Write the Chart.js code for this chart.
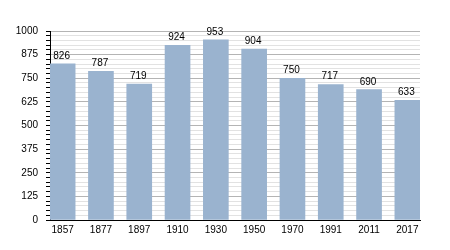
<!DOCTYPE html>
<html>
<head>
<meta charset="utf-8">
<script src="https://cdn.jsdelivr.net/npm/chart.js@4/dist/chart.umd.min.js"></script>
<style>
html,body{margin:0;padding:0;background:#fff;}
#wrap{width:450px;height:250px;}
</style>
</head>
<body>
<div id="wrap"><canvas id="c" width="450" height="250"></canvas></div>
<script>
const years = ['1857','1877','1897','1910','1930','1950','1970','1991','2011','2017'];
const population = [826,787,719,924,953,904,750,717,690,633];
const yTickStep = 125;

const valueLabels = {
  id: 'valueLabels',
  afterDatasetsDraw(chart) {
    const ctx = chart.ctx;
    const meta = chart.getDatasetMeta(0);
    ctx.save();
    ctx.font = '10px "Liberation Sans", Arial, sans-serif';
    ctx.fillStyle = '#000';
    ctx.textAlign = 'center';
    ctx.textBaseline = 'alphabetic';
    meta.data.forEach((el, i) => {
      ctx.fillText(String(population[i]), el.x - 1, el.y - 5);
    });
    ctx.restore();
  }
};

new Chart(document.getElementById('c'), {
  type: 'bar',
  data: {
    datasets: [{
      data: population.map((v, i) => ({x: i, y: v})),
      backgroundColor: '#9ab3cf',
      borderWidth: 0,
      barThickness: 25
    }]
  },
  options: {
    responsive: false,
    animation: false,
    events: [],
    layout: {padding: {top: 31, right: 30, left: 0, bottom: 0}},
    plugins: {legend: {display: false}, tooltip: {enabled: false}},
    scales: {
      x: {
        type: 'linear',
        offset: false,
        min: -0.33,
        max: 9.33,
        afterBuildTicks: s => { s.ticks = years.map((_, i) => ({value: i})); },
        afterFit: s => { s.height = 30; },
        grid: {display: false, drawTicks: false},
        border: {display: true, color: '#000', width: 1},
        ticks: {
          autoSkip: false,
          maxRotation: 0,
          padding: 4,
          color: '#000',
          font: {family: '"Liberation Sans", Arial, sans-serif', size: 10},
          callback: v => years[v] !== undefined ? years[v] : ''
        }
      },
      y: {
        min: 0,
        max: 1000,
        afterFit: s => { s.width = 50; },
        afterBuildTicks: s => {
          const t = [];
          for (let v = 0; v <= 1000; v += 25) t.push({value: v});
          s.ticks = t;
        },
        grid: {
          color: c => (c.tick && c.tick.value % yTickStep === 0) ? '#b4b4b4' : '#e2e2e2',
          tickColor: '#000',
          tickLength: 4,
          lineWidth: 1
        },
        border: {display: true, color: '#000', width: 1},
        ticks: {
          autoSkip: false,
          padding: 8,
          color: '#000',
          font: {family: '"Liberation Sans", Arial, sans-serif', size: 10},
          callback: v => v % yTickStep === 0 ? String(v) : ''
        }
      }
    }
  },
  plugins: [valueLabels]
});
</script>
</body>
</html>
